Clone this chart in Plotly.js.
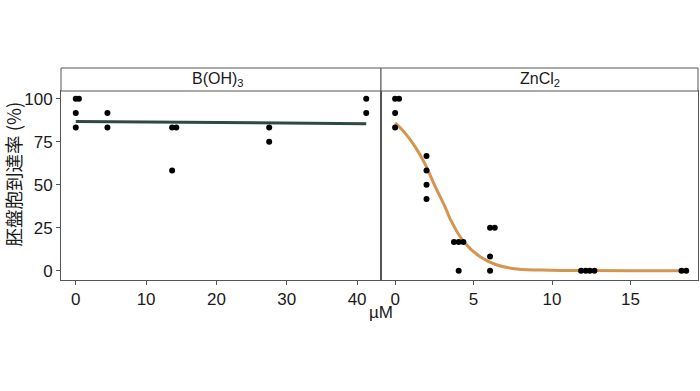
<!DOCTYPE html>
<html>
<head>
<meta charset="utf-8">
<script src="https://cdn.plot.ly/plotly-3.0.1.min.js"></script>
<style>html,body{margin:0;padding:0;background:#fff;}</style>
</head>
<body>
<div id="chart" style="width:700px;height:391px;"></div>
<script>
// Panel labels
const panelLabels = ["B(OH)<sub>3</sub>", "ZnCl<sub>2</sub>"];
const yTitle = "胚盤胞到達率 (%)";
const xTitle = "µM";

// B(OH)3 observations
const borX = [0, 0.45, 0, 0, 4.5, 4.5, 13.7, 14.3, 13.7, 27.5, 27.5, 41.3, 41.3];
const borY = [100, 100, 91.7, 83.3, 91.7, 83.3, 83.3, 83.3, 58.3, 83.3, 75, 100, 91.7];
// B(OH)3 fitted line
const borFitX = [0, 41.3];
const borFitY = [86.8, 85.5];

// ZnCl2 observations
const znX = [0, 0.25, 0, 0, 2, 2, 2, 2, 3.75, 4.05, 4.35, 4.05, 6.05, 6.35, 6.05, 6.05, 11.85, 12.15, 12.4, 12.7, 18.25, 18.55];
const znY = [100, 100, 91.7, 83.3, 66.7, 58.3, 50, 41.7, 16.7, 16.7, 16.7, 0, 25, 25, 8.3, 0, 0, 0, 0, 0, 0, 0];
// ZnCl2 fitted curve
const znFitX = [0, 0.64, 1.28, 1.91, 2.55, 3.19, 3.51, 4.36, 5.42, 6.49, 7.77, 9.9, 12, 15, 18.6];
const znFitY = [86, 80, 72, 62, 49, 37, 30, 17, 8.1, 3.3, 1.0, 0.3, 0.1, 0, 0];

// Tick values
const yTicks = [0, 25, 50, 75, 100];
const x1Ticks = [0, 10, 20, 30, 40];
const x2Ticks = [0, 5, 10, 15];

const W = 700, H = 391;
const px = v => v / W;
const py = v => (H - v) / H;

const FONT = "Liberation Sans, Arial, sans-serif";
const lineCol = "#555555";

const traces = [
  {x: borFitX, y: borFitY, xaxis: "x", yaxis: "y", mode: "lines",
   line: {color: "#2f4a45", width: 3}, hoverinfo: "skip", showlegend: false},
  {x: borX, y: borY, xaxis: "x", yaxis: "y", mode: "markers",
   marker: {color: "#000", size: 6}, showlegend: false},
  {x: znFitX, y: znFitY, xaxis: "x2", yaxis: "y2", mode: "lines",
   line: {color: "#d49550", width: 3, shape: "spline", smoothing: 1}, hoverinfo: "skip", showlegend: false},
  {x: znX, y: znY, xaxis: "x2", yaxis: "y2", mode: "markers",
   marker: {color: "#000", size: 6}, showlegend: false}
];

const axBase = {
  showgrid: false, zeroline: false, showline: true, linecolor: lineCol, linewidth: 1,
  mirror: true, ticks: "outside", ticklen: 4, tickcolor: lineCol,
  tickfont: {family: FONT, size: 17, color: "#1a1a1a"}
};

const layout = {
  width: W, height: H,
  margin: {l: 0, r: 0, t: 0, b: 0},
  paper_bgcolor: "#fff", plot_bgcolor: "#fff",
  showlegend: false,
  xaxis: Object.assign({}, axBase, {domain: [px(61), px(381)], range: [-2.1, 43.4],
    tickvals: x1Ticks, anchor: "y"}),
  xaxis2: Object.assign({}, axBase, {domain: [px(381), px(698)], range: [-0.9, 19.3],
    tickvals: x2Ticks, anchor: "y2"}),
  yaxis: Object.assign({}, axBase, {domain: [py(280), py(91)], range: [-5.4, 104.5],
    tickvals: yTicks, anchor: "x"}),
  yaxis2: Object.assign({}, axBase, {domain: [py(280), py(91)], range: [-5.4, 104.5],
    tickvals: yTicks, showticklabels: false, ticks: "", anchor: "x2"}),
  shapes: [
    {type: "rect", xref: "paper", yref: "paper", x0: px(61), x1: px(381), y0: py(91), y1: py(68),
     line: {color: lineCol, width: 1}, fillcolor: "#fff"},
    {type: "rect", xref: "paper", yref: "paper", x0: px(381), x1: px(698), y0: py(91), y1: py(68),
     line: {color: lineCol, width: 1}, fillcolor: "#fff"}
  ],
  annotations: [
    {text: panelLabels[0], xref: "paper", yref: "paper", x: px(218), y: py(79.5),
     xanchor: "center", yanchor: "middle", showarrow: false,
     font: {family: FONT, size: 16, color: "#1a1a1a"}},
    {text: panelLabels[1], xref: "paper", yref: "paper", x: px(539.5), y: py(79.5),
     xanchor: "center", yanchor: "middle", showarrow: false,
     font: {family: FONT, size: 16, color: "#1a1a1a"}},
    {text: yTitle, xref: "paper", yref: "paper", x: px(12.5), y: py(174),
     xanchor: "center", yanchor: "middle", showarrow: false, textangle: -90,
     font: {family: "Noto Sans CJK JP, " + FONT, size: 18.5, color: "#1a1a1a"}},
    {text: xTitle, xref: "paper", yref: "paper", x: px(381), y: py(312),
     xanchor: "center", yanchor: "middle", showarrow: false,
     font: {family: FONT, size: 17, color: "#1a1a1a"}}
  ]
};

Plotly.newPlot("chart", traces, layout, {displayModeBar: false, staticPlot: true});
</script>
</body>
</html>
